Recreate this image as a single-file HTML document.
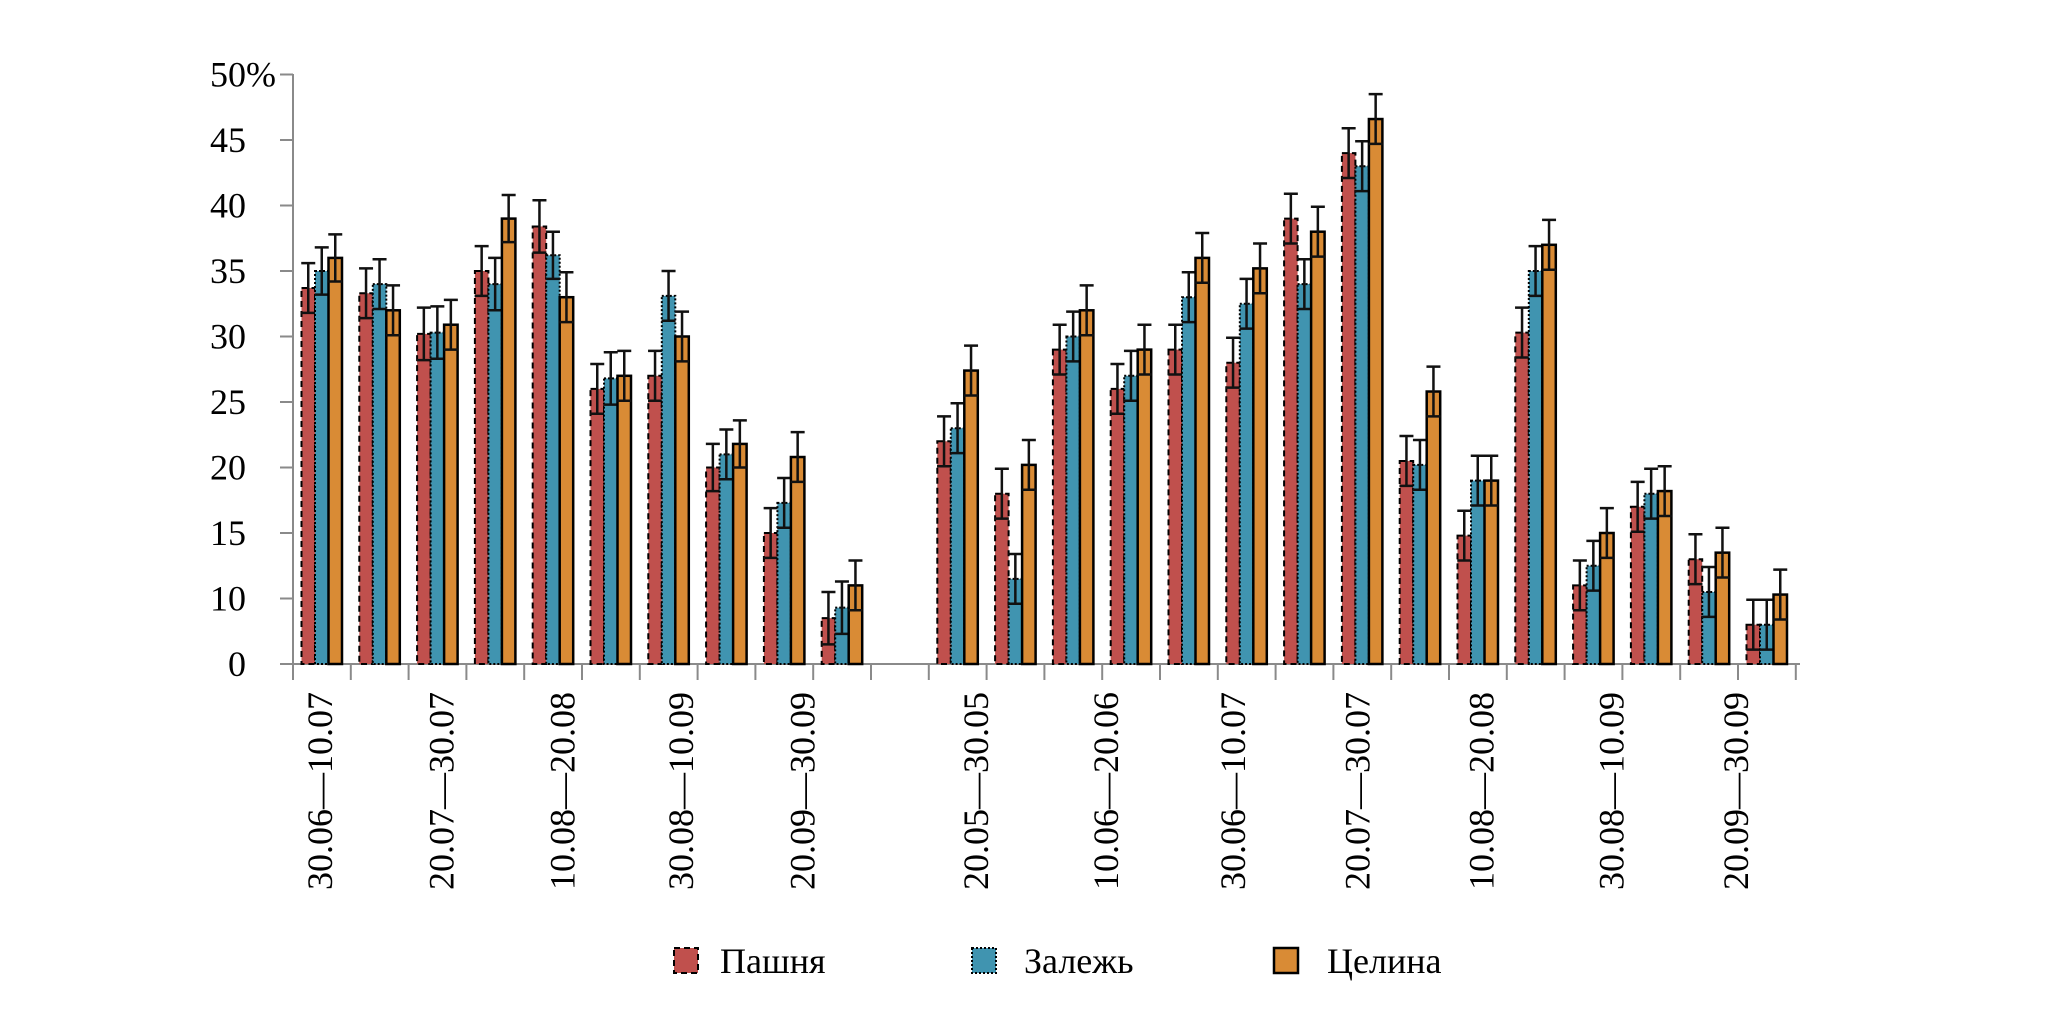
<!DOCTYPE html>
<html><head><meta charset="utf-8"><style>
html,body{margin:0;padding:0;background:#fff;}
svg{display:block;font-family:"Liberation Serif","DejaVu Serif",serif;}
</style></head><body>
<svg id="chart" width="2067" height="1033" viewBox="0 0 2067 1033" xmlns="http://www.w3.org/2000/svg">
<g id="axes"></g>
<g id="bars"></g>
<g id="labels"></g>
<g id="legend">
  <rect x="674" y="948" width="24" height="25" fill="#c0504d" stroke="#000" stroke-width="2" stroke-dasharray="6,4"/>
  <text x="720" y="973" font-size="36">Пашня</text>
  <rect x="972" y="948" width="24" height="25" fill="#4094b0" stroke="#000" stroke-width="2" stroke-dasharray="2,2"/>
  <text x="1024" y="973" font-size="36">Залежь</text>
  <rect x="1274" y="948" width="24" height="25" fill="#d98b35" stroke="#000" stroke-width="2.5"/>
  <text x="1327" y="973" font-size="36">Целина</text>
</g>
</svg>
<script>
const pashnya = [33.7,33.3,30.2,35,38.4,26,27,20,15,8.5, 22,18,29,26,29,28,39,44,20.5,14.8,30.3,11,17,13,8];
const zalezh  = [35,34,30.3,34,36.2,26.8,33.1,21,17.3,9.3, 23,11.5,30,27,33,32.5,34,43,20.2,19,35,12.5,18,10.5,8];
const tselina = [36,32,30.9,39,33,27,30,21.8,20.8,11, 27.4,20.2,32,29,36,35.2,38,46.6,25.8,19,37,15,18.2,13.5,10.3];
const errP = [1.9,1.9,2,1.9,2,1.9,1.9,1.8,1.9,2, 1.9,1.9,1.9,1.9,1.9,1.9,1.9,1.9,1.9,1.9,1.9,1.9,1.9,1.9,1.9];
const errZ = [1.8,1.9,2,2,1.8,2,1.9,1.9,1.9,2, 1.9,1.9,1.9,1.9,1.9,1.9,1.9,1.9,1.9,1.9,1.9,1.9,1.9,1.9,1.9];
const errT = [1.8,1.9,1.9,1.8,1.9,1.9,1.9,1.8,1.9,1.9, 1.9,1.9,1.9,1.9,1.9,1.9,1.9,1.9,1.9,1.9,1.9,1.9,1.9,1.9,1.9];
const yTicks = [0,10,15,20,25,30,35,40,45,50];
const yTickLabels = ["0","10","15","20","25","30","35","40","45","50%"];
const xLabels = ["30.06—10.07","20.07—30.07","10.08—20.08","30.08—10.09","20.09—30.09",
                 "20.05—30.05","10.06—20.06","30.06—10.07","20.07—30.07","10.08—20.08","30.08—10.09","20.09—30.09"];
const xLabelPos = [0,2.1,4.2,6.25,8.35, 11.35,13.6,15.8,17.95,20.1,22.35,24.5];

const NS="http://www.w3.org/2000/svg";
const X0=293, SLOT=57.8, BASE=664;
function yScale(v){ const vv = v<5?5:v; return BASE-(vv-5)*13.1; }
function slotX(i){ return X0 + SLOT*(i<10?i:i+1); }
function el(tag,attrs,parent){const e=document.createElementNS(NS,tag);for(const k in attrs)e.setAttribute(k,attrs[k]);parent.appendChild(e);return e;}
const axes=document.getElementById('axes'), bars=document.getElementById('bars'), labels=document.getElementById('labels');

const yl=el('line',{x1:X0,y1:74,x2:X0,y2:BASE,stroke:'#8a8a8a','stroke-width':2},axes);


const xl=el('line',{x1:X0,y1:BASE,x2:1800,y2:BASE,stroke:'#8a8a8a','stroke-width':2},axes);


yTicks.forEach((t,i)=>{
  const y = t===0?BASE:yScale(t);
  const tk=el('line',{x1:280,y1:y,x2:X0,y2:y,stroke:'#8a8a8a','stroke-width':2},axes);
  
  
  const lab=yTickLabels[i];
  const tx=el('text',{x:246,y:y+12,'font-size':36,'text-anchor':'start'},axes);
  
  
  tx.textContent=lab;
  const w = lab.replace('%','').length*18;
  tx.setAttribute('x', 246-w);
});
for(let i=0;i<=26;i++){
  const x=X0+SLOT*i;
  const tk=el('line',{x1:x,y1:BASE,x2:x,y2:BASE+16,stroke:'#8a8a8a','stroke-width':2},axes);
  
  
}
const series=[
  {v:pashnya,e:errP,fill:'#c0504d',dash:'6,4',sw:2,name:'pashnya'},
  {v:zalezh,e:errZ,fill:'#4094b0',dash:'2,2',sw:2,name:'zalezh'},
  {v:tselina,e:errT,fill:'#d98b35',dash:'',sw:2.5,name:'tselina'}];
const BW=13.5;
for(let g=0; g<pashnya.length; g++){
  const sx=slotX(g)+8.5;
  series.forEach((s,k)=>{
    const x=sx+k*BW, y=yScale(s.v[g]);
    const r=el('rect',{x:x,y:y,width:BW,height:BASE-y,fill:s.fill,stroke:'#000','stroke-width':s.sw},bars);
    if(s.dash) r.setAttribute('stroke-dasharray',s.dash);
    
    
    const cx=x+BW/2, yt=yScale(s.v[g]+s.e[g]), yb=yScale(s.v[g]-s.e[g]);
    const eb=el('path',{d:`M${cx},${yt}V${yb}M${cx-7},${yt}H${cx+7}M${cx-7},${yb}H${cx+7}`,stroke:'#111','stroke-width':2.5,fill:'none'},bars);
    
    
  });
}
xLabels.forEach((t,i)=>{
  const p=xLabelPos[i];
  const x=X0+SLOT*(p+0.5)+10;
  const tx=el('text',{x:0,y:0,'font-size':36,'text-anchor':'middle',transform:`translate(${x},791) rotate(-90)`},labels);
  
  
  tx.textContent=t;
});
</script>
</body></html>
